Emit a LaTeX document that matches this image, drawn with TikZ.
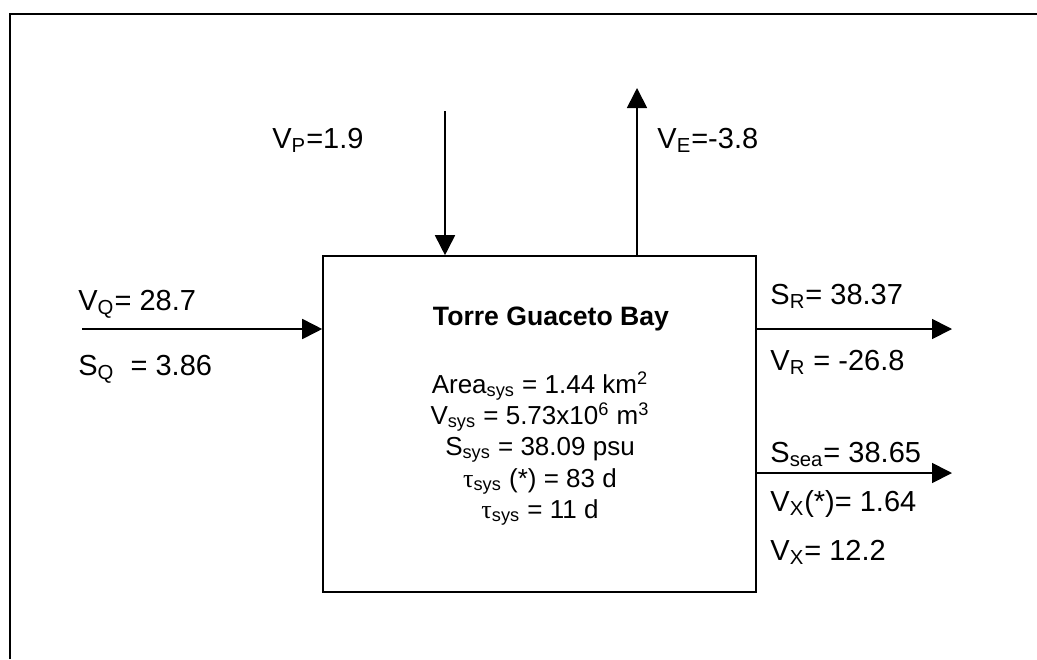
\documentclass[tikz,border=0pt]{standalone}
\usepackage{fontspec}
\setmainfont{Liberation Sans}
\newfontfamily\greekfont{Liberation Serif}
\usetikzlibrary{arrows.meta}
\newcommand\sbs[1]{\textsubscript{#1}}
\newcommand\sps[1]{\textsuperscript{#1}}
\newcommand\mytau{{\greekfont τ}}
\tikzset{
  flow/.style={line width=0.85pt,-{Triangle[length=10pt,width=10pt]}},
  lbl/.style={anchor=base west,inner sep=0pt,font=\fontsize{14.5}{17}\selectfont},
  inlbl/.style={anchor=base,inner sep=0pt,font=\fontsize{13}{15}\selectfont},
  sysbox/.style={draw,line width=0.8pt,minimum width=216.5pt,minimum height=168pt,inner sep=0pt},
}
\begin{document}
\begin{tikzpicture}[x=0.5pt,y=-0.5pt]
\useasboundingbox (0,0) rectangle (1037,659);
% outer frame
\draw[line width=1.1pt] (10,659) -- (10,14) -- (1037,14);
% system box
\node[sysbox] (box) at (539.5,424) {};
\node[inlbl,font=\fontsize{13.3}{15}\selectfont\bfseries] (title) at (551,325) {Torre Guaceto Bay};
\node[inlbl] (l1) at (540,393) {Area\sbs{sys} = 1.44 km\sps{2}};
\node[inlbl] (l2) at (540,424) {V\sbs{sys} = 5.73x10\sps{6} m\sps{3}};
\node[inlbl] (l3) at (540,455) {S\sbs{sys} = 38.09 psu};
\node[inlbl] (l4) at (540,487) {\mytau\sbs{sys} (*) = 83 d};
\node[inlbl] (l5) at (540,518) {\mytau\sbs{sys} = 11 d};
% flows
\coordinate (pstart) at (445,111);
\draw[flow] (pstart) -- (pstart |- box.north);
\coordinate (eend) at (637,88);
\draw[flow] (eend |- box.north) -- (eend);
\coordinate (qstart) at (82,329);
\draw[flow] (qstart) -- (qstart -| box.west);
\coordinate (rend) at (952,329);
\draw[flow] (rend -| box.east) -- (rend);
\coordinate (xend) at (952,473);
\draw[flow] (xend -| box.east) -- (xend);
% labels
\node[lbl] (vp) at (272,148) {V\sbs{P}=1.9};
\node[lbl] (ve) at (657,148) {V\sbs{E}=-3.8};
\node[lbl] (vq) at (78,310) {V\sbs{Q}= 28.7};
\node[lbl] (sq) at (78,375) {S\sbs{Q}\ \ = 3.86};
\node[lbl] (sr) at (770,304) {S\sbs{R}= 38.37};
\node[lbl] (vr) at (770,370) {V\sbs{R} = -26.8};
\node[lbl] (ssea) at (770,462) {S\sbs{sea}= 38.65};
\node[lbl] (vxs) at (770,511) {V\sbs{X}(*)= 1.64};
\node[lbl] (vx) at (770,560) {V\sbs{X}= 12.2};
\end{tikzpicture}
\end{document}
